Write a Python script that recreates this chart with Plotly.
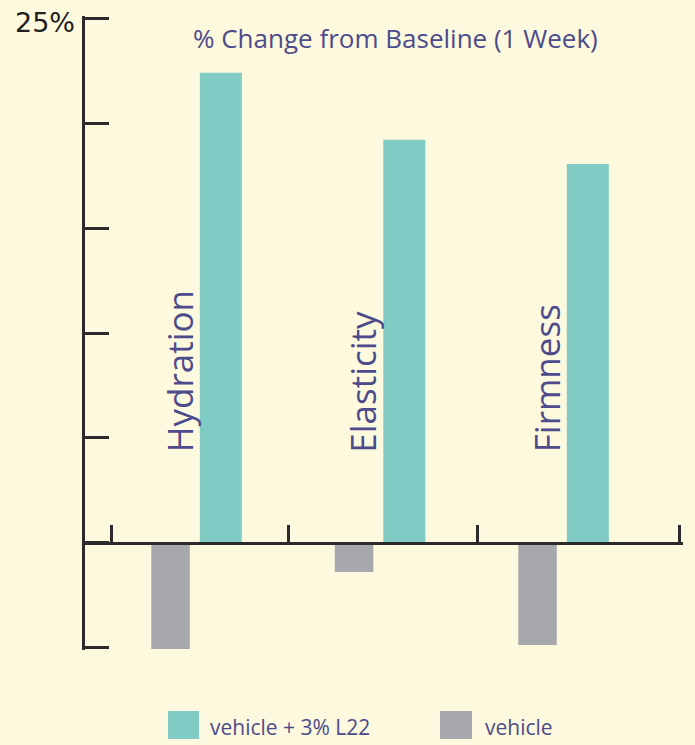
import plotly.graph_objects as go

# ---- data ----
categories = ["Hydration", "Elasticity", "Firmness"]
treated_values = [22.4, 19.2, 18.05]      # vehicle + 3% L22
vehicle_values = [-5.05, -1.38, -4.86]    # vehicle
series_names = ["vehicle + 3% L22", "vehicle"]
y_tick_vals = [-5, 0, 5, 10, 15, 20, 25]
y_tick_text = ["", "", "", "", "", "", "25%"]
x_boundary_ticks = [-0.4605, 0.5095, 1.5341, 2.6403]
title_text = "% Change from Baseline (1 Week)"

# ---- style ----
BG = "#fdf9de"
GREEN = "#80cbc4"
GRAY = "#a7a8ab"
PURPLE = "#4d4b8b"
AXIS = "#2b2b2b"

Y0, Y1 = -5.1, 25.1

fig = go.Figure()
fig.add_trace(go.Bar(x=categories, y=vehicle_values, name=series_names[1],
                     marker=dict(color=GRAY, line=dict(width=0)),
                     width=0.21, offset=-0.241, showlegend=False))
fig.add_trace(go.Bar(x=categories, y=treated_values, name=series_names[0],
                     marker=dict(color=GREEN, line=dict(width=0)),
                     width=0.229, offset=0.0235, showlegend=False))

# category labels inside plot (rotated)
for c in categories:
    fig.add_annotation(x=c, y=4.2, xref="x", yref="y", text=c, showarrow=False,
                       textangle=-90, xanchor="center", yanchor="bottom", xshift=-16,
                       font=dict(family="Open Sans", size=35, color=PURPLE))

# top tick label of the y axis
for v, t in zip(y_tick_vals, y_tick_text):
    if t:
        fig.add_annotation(x=0, y=v, xref="paper", yref="y", text=t, showarrow=False,
                           xanchor="right", yanchor="middle", xshift=-8, yshift=-4,
                           font=dict(family="DejaVu Sans", size=27, color="#231f20"))

# title
fig.add_annotation(x=0.52, y=0.965, xref="paper", yref="paper", text=title_text,
                   showarrow=False, xanchor="center", yanchor="middle",
                   font=dict(family="Open Sans", size=26, color=PURPLE))

# manual legend (paper coords of plot area 85..683 x, 650..16 y)
W, H, L, B = 598.0, 634.0, 85.0, 650.0
def px(p):
    return (p - L) / W
def py(p):
    return (B - p) / H

leg = [(168, 199, 208, GREEN, series_names[0]),
       (440, 472, 483, GRAY, series_names[1])]
for x0, x1, xt, col, name in leg:
    fig.add_shape(type="rect", xref="paper", yref="paper", x0=px(x0), x1=px(x1),
                  y0=py(739), y1=py(711), fillcolor=col, line=dict(width=0))
    fig.add_annotation(x=px(xt), y=py(727), xref="paper", yref="paper", text=name,
                       showarrow=False, xanchor="left", yanchor="middle",
                       font=dict(family="Open Sans", size=21, color=PURPLE))

fig.update_layout(
    width=695, height=745,
    margin=dict(l=85, r=12, t=16, b=95, autoexpand=False),
    paper_bgcolor=BG, plot_bgcolor=BG,
    barmode="overlay",
    xaxis=dict(type="category", range=[-0.6022, 2.6567], anchor="free",
               position=(0 - Y0) / (Y1 - Y0), automargin=False,
               showline=True, linecolor=AXIS, linewidth=2.5,
               ticks="inside", ticklen=17, tickwidth=2.5, tickcolor=AXIS,
               tickmode="array", tickvals=x_boundary_ticks,
               showticklabels=False, showgrid=False, zeroline=False),
    yaxis=dict(range=[Y0, Y1], automargin=False, showline=True, linecolor=AXIS, linewidth=2.5,
               ticks="inside", ticklen=24, tickwidth=2.5, tickcolor=AXIS,
               tickmode="array", tickvals=y_tick_vals,
               showticklabels=False, showgrid=False, zeroline=False),
)

fig.write_html("out.html", config={"displayModeBar": False},
               post_script="document.body.style.margin='0';document.body.style.overflow='hidden';")
